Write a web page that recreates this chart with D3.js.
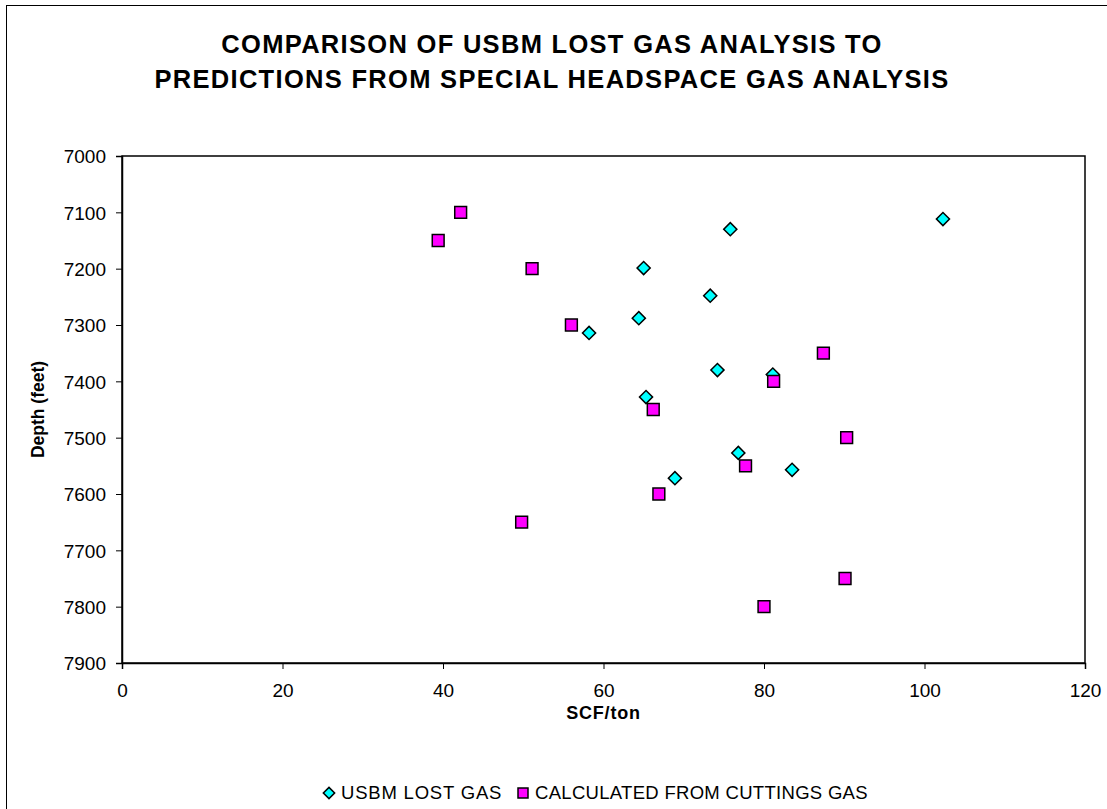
<!DOCTYPE html>
<html>
<head>
<meta charset="utf-8">
<script src="https://cdn.jsdelivr.net/npm/d3@7"></script>
<style>
  html, body { margin: 0; padding: 0; background: #fff; }
  svg { display: block; font-family: Arial, "Liberation Sans", sans-serif; }
</style>
</head>
<body>
<svg id="chart" width="1107" height="809"></svg>
<script>
// ---- data ----
const titleLines = ["COMPARISON OF USBM LOST GAS ANALYSIS TO", "PREDICTIONS FROM SPECIAL HEADSPACE GAS ANALYSIS"];
const xTicks = [0, 20, 40, 60, 80, 100, 120];
const yTicks = [7000, 7100, 7200, 7300, 7400, 7500, 7600, 7700, 7800, 7900];
const seriesNames = ["USBM LOST GAS", "CALCULATED FROM CUTTINGS GAS"];
const usbmScf   = [102.3, 75.8, 65.0, 73.3, 64.4, 58.2, 74.2, 81.1, 65.3, 76.8, 83.5, 68.9];
const usbmDepth = [7112, 7130, 7199, 7248, 7288, 7314, 7380, 7388, 7428, 7527, 7557, 7572];
const calcScf   = [42.2, 39.4, 51.1, 56.0, 87.4, 81.2, 66.2, 90.3, 77.7, 66.9, 49.8, 90.1, 80.0];
const calcDepth = [7100, 7150, 7200, 7300, 7350, 7400, 7450, 7500, 7550, 7600, 7650, 7750, 7800];

const svg = d3.select("#chart");
const plot = { left: 122, top: 156, right: 1085, bottom: 663 };

// outer frame
svg.append("rect").attr("x", 6.5).attr("y", 5.5).attr("width", 1200).attr("height", 900)
  .attr("fill", "#fff").attr("stroke", "#000").attr("stroke-width", 1);

const x = d3.scaleLinear().domain([0, 120]).range([plot.left, plot.right]);
const y = d3.scaleLinear().domain([7000, 7900]).range([plot.top, plot.bottom]);

// title
svg.append("g").selectAll("text").data(titleLines).join("text")
  .attr("x", 552).attr("y", (d, i) => 53 + i * 35)
  .attr("text-anchor", "middle").attr("font-size", 25.5).attr("font-weight", "bold")
  .attr("letter-spacing", "1.3px")
  .text(d => d);

// plot border
svg.append("rect").attr("x", plot.left).attr("y", plot.top)
  .attr("width", plot.right - plot.left).attr("height", plot.bottom - plot.top)
  .attr("fill", "none").attr("stroke", "#000").attr("stroke-width", 1.5);

// axes
const xAxis = svg.append("g").attr("transform", `translate(0,${plot.bottom})`)
  .call(d3.axisBottom(x).tickValues(xTicks).tickSize(6).tickPadding(15).tickFormat(d3.format("d")));
const yAxis = svg.append("g").attr("transform", `translate(${plot.left},0)`)
  .call(d3.axisLeft(y).tickValues(yTicks).tickSize(6).tickPadding(10).tickFormat(d3.format("d")));
[xAxis, yAxis].forEach(g => {
  g.select(".domain").attr("stroke", "#000").attr("stroke-width", 1.5);
  g.selectAll(".tick line").attr("stroke", "#000").attr("stroke-width", 1);
  g.selectAll(".tick text").attr("font-size", 19).attr("fill", "#000")
    .attr("font-family", "Arial, 'Liberation Sans', sans-serif");
});
yAxis.selectAll(".tick text").attr("dy", "0.36em");

// axis titles
svg.append("text").attr("x", (plot.left + plot.right) / 2).attr("y", 719)
  .attr("text-anchor", "middle").attr("font-size", 18).attr("font-weight", "bold")
  .attr("letter-spacing", "0.8px").text("SCF/ton");
svg.append("text").attr("transform", `translate(44,${(plot.top + plot.bottom) / 2}) rotate(-90)`)
  .attr("text-anchor", "middle").attr("font-size", 17.5).attr("font-weight", "bold").text("Depth (feet)");

const diamond = d3.symbol().type(d3.symbolSquare).size(86);
const square = d3.symbol().type(d3.symbolSquare).size(140);

// series
const usbm = usbmScf.map((v, i) => ({ x: v, y: usbmDepth[i] }));
const calc = calcScf.map((v, i) => ({ x: v, y: calcDepth[i] }));

svg.append("g").selectAll("path").data(usbm).join("path")
  .attr("d", diamond)
  .attr("transform", d => `translate(${x(d.x)},${y(d.y)}) rotate(45)`)
  .attr("fill", "#00FFFF").attr("stroke", "#000").attr("stroke-width", 1.5);

svg.append("g").selectAll("path").data(calc).join("path")
  .attr("d", square)
  .attr("transform", d => `translate(${x(d.x)},${y(d.y)})`)
  .attr("fill", "#FF00FF").attr("stroke", "#000").attr("stroke-width", 1.5);

// legend
const legend = svg.append("g");
legend.append("path").attr("d", d3.symbol().type(d3.symbolSquare).size(64))
  .attr("transform", "translate(329,793) rotate(45)")
  .attr("fill", "#00FFFF").attr("stroke", "#000").attr("stroke-width", 1.5);
legend.append("text").attr("x", 341).attr("y", 799).attr("font-size", 18.5)
  .attr("letter-spacing", "0.8px").text(seriesNames[0]);
legend.append("path").attr("d", d3.symbol().type(d3.symbolSquare).size(100))
  .attr("transform", "translate(523,793)")
  .attr("fill", "#FF00FF").attr("stroke", "#000").attr("stroke-width", 1.5);
legend.append("text").attr("x", 535).attr("y", 799).attr("font-size", 18.5)
  .attr("letter-spacing", "0.3px").text(seriesNames[1]);
</script>
</body>
</html>
